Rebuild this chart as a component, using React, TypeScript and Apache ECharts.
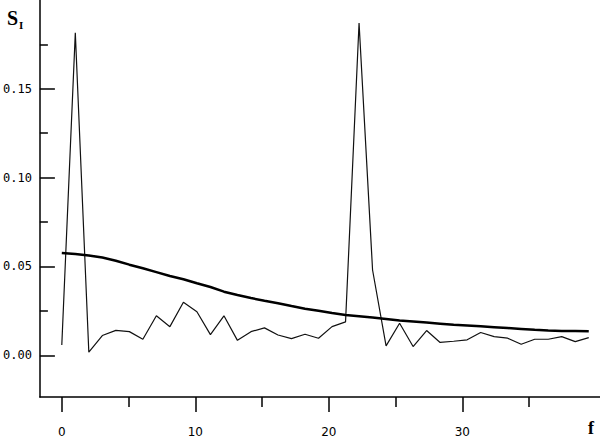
import React, { useEffect, useRef } from "react";
import * as echarts from "echarts";

// spectral estimate (thin line), sampled once per frequency step
const spectrum: number[] = [
  0.0058, 0.1816, 0.0017, 0.0111, 0.014, 0.0133, 0.009, 0.0222, 0.0161, 0.0298,
  0.0245, 0.0116, 0.0222, 0.0084, 0.0133, 0.0154, 0.0114, 0.0094, 0.0118, 0.0096,
  0.0161, 0.0188, 0.187, 0.048, 0.0053, 0.018, 0.0049, 0.0139, 0.0072, 0.0079,
  0.0087, 0.0128, 0.0105, 0.0096, 0.0062, 0.009, 0.009, 0.0105, 0.0077, 0.0099,
];
// smooth reference spectrum (thick line)
const smooth: number[] = [
  0.0575, 0.057, 0.0562, 0.055, 0.0532, 0.051, 0.049, 0.0468, 0.0446, 0.0428,
  0.0405, 0.0384, 0.0358, 0.0339, 0.0322, 0.0307, 0.0293, 0.0277, 0.0262, 0.025,
  0.0238, 0.0227, 0.022, 0.0212, 0.0204, 0.0196, 0.019, 0.0184, 0.0178, 0.0172,
  0.0168, 0.0163, 0.0158, 0.0153, 0.0148, 0.0143, 0.0139, 0.0137, 0.0136, 0.0135,
];
const freqStep = 1.012;
const xMajorTicks = [0, 10, 20, 30];
const xMinorTicks = [5, 15, 25, 35];
const yMajorTicks = [0, 0.05, 0.1, 0.15];
const yMinorTicks = [0.025, 0.075, 0.125, 0.175];

export default function App() {
  const ref = useRef<HTMLDivElement>(null);
  useEffect(() => {
    if (!ref.current) return;
    const chart = echarts.init(ref.current, null, { renderer: "svg" });
    const xMin = -1.64;
    const xMax = 40.31;
    const yMin = -0.0235;
    const yMax = 0.2;
    const lineStyle = { color: "#000", width: 1.5 };
    chart.setOption({
      animation: false,
      backgroundColor: "#fff",
      grid: { left: 37, right: 0, top: 0, bottom: 44 },
      xAxis: [
        {
          type: "value",
          min: xMin,
          max: xMax,
          axisLine: { show: true, onZero: false, lineStyle },
          splitLine: { show: false },
          axisTick: {
            show: true,
            inside: false,
            length: 15,
            customValues: xMajorTicks,
            lineStyle: { color: "#000", width: 1.5 },
          },
          axisLabel: {
            show: true,
            customValues: xMajorTicks,
            margin: 29,
            fontFamily: "DejaVu Sans",
            fontSize: 12,
            color: "#000",
          },
        },
        {
          type: "value",
          min: xMin,
          max: xMax,
          position: "bottom",
          axisLine: { show: false, onZero: false },
          splitLine: { show: false },
          axisTick: {
            show: true,
            inside: false,
            length: 10,
            customValues: xMinorTicks,
            lineStyle: { color: "#000", width: 1.5 },
          },
          axisLabel: { show: false },
        },
      ],
      yAxis: [
        {
          type: "value",
          min: yMin,
          max: yMax,
          axisLine: { show: true, onZero: false, lineStyle },
          splitLine: { show: false },
          axisTick: {
            show: true,
            inside: true,
            length: 15,
            customValues: yMajorTicks,
            lineStyle: { color: "#000", width: 1.5 },
          },
          axisLabel: {
            show: true,
            customValues: yMajorTicks,
            margin: 8,
            fontFamily: "DejaVu Sans Mono",
            fontSize: 12,
            color: "#000",
            formatter: (v: number) => v.toFixed(2),
          },
        },
        {
          type: "value",
          min: yMin,
          max: yMax,
          position: "left",
          axisLine: { show: false, onZero: false },
          splitLine: { show: false },
          axisTick: {
            show: true,
            inside: true,
            length: 8,
            customValues: yMinorTicks,
            lineStyle: { color: "#000", width: 1.5 },
          },
          axisLabel: { show: false },
        },
      ],
      series: [
        {
          type: "line",
          xAxisIndex: 0,
          yAxisIndex: 0,
          data: spectrum.map((v, i) => [i * freqStep, v]),
          showSymbol: false,
          symbol: "none",
          lineStyle: { color: "#111", width: 1.2 },
        },
        {
          type: "line",
          xAxisIndex: 0,
          yAxisIndex: 0,
          data: smooth.map((v, i) => [i * freqStep, v]),
          showSymbol: false,
          symbol: "none",
          lineStyle: { color: "#000", width: 2.5 },
        },
      ],
      graphic: [
        {
          type: "text",
          left: 7,
          top: 8,
          style: {
            text: "{s|S}{i|I}",
            rich: {
              s: {
                fontFamily: "Liberation Serif",
                fontWeight: "bold",
                fontSize: 20,
                fill: "#000",
                verticalAlign: "bottom",
              },
              i: {
                fontFamily: "Liberation Serif",
                fontWeight: "bold",
                fontSize: 11,
                fill: "#000",
                verticalAlign: "bottom",
                padding: [0, 0, -2, 1],
              },
            },
          },
        },
        {
          type: "text",
          left: 588,
          top: 419,
          style: {
            text: "f",
            fontFamily: "Liberation Serif",
            fontWeight: "bold",
            fontSize: 18,
            fill: "#000",
          },
        },
      ],
    });
    return () => chart.dispose();
  }, []);
  return (
    <div
      ref={ref}
      style={{ position: "fixed", left: 0, top: 0, width: 600, height: 441 }}
    />
  );
}
